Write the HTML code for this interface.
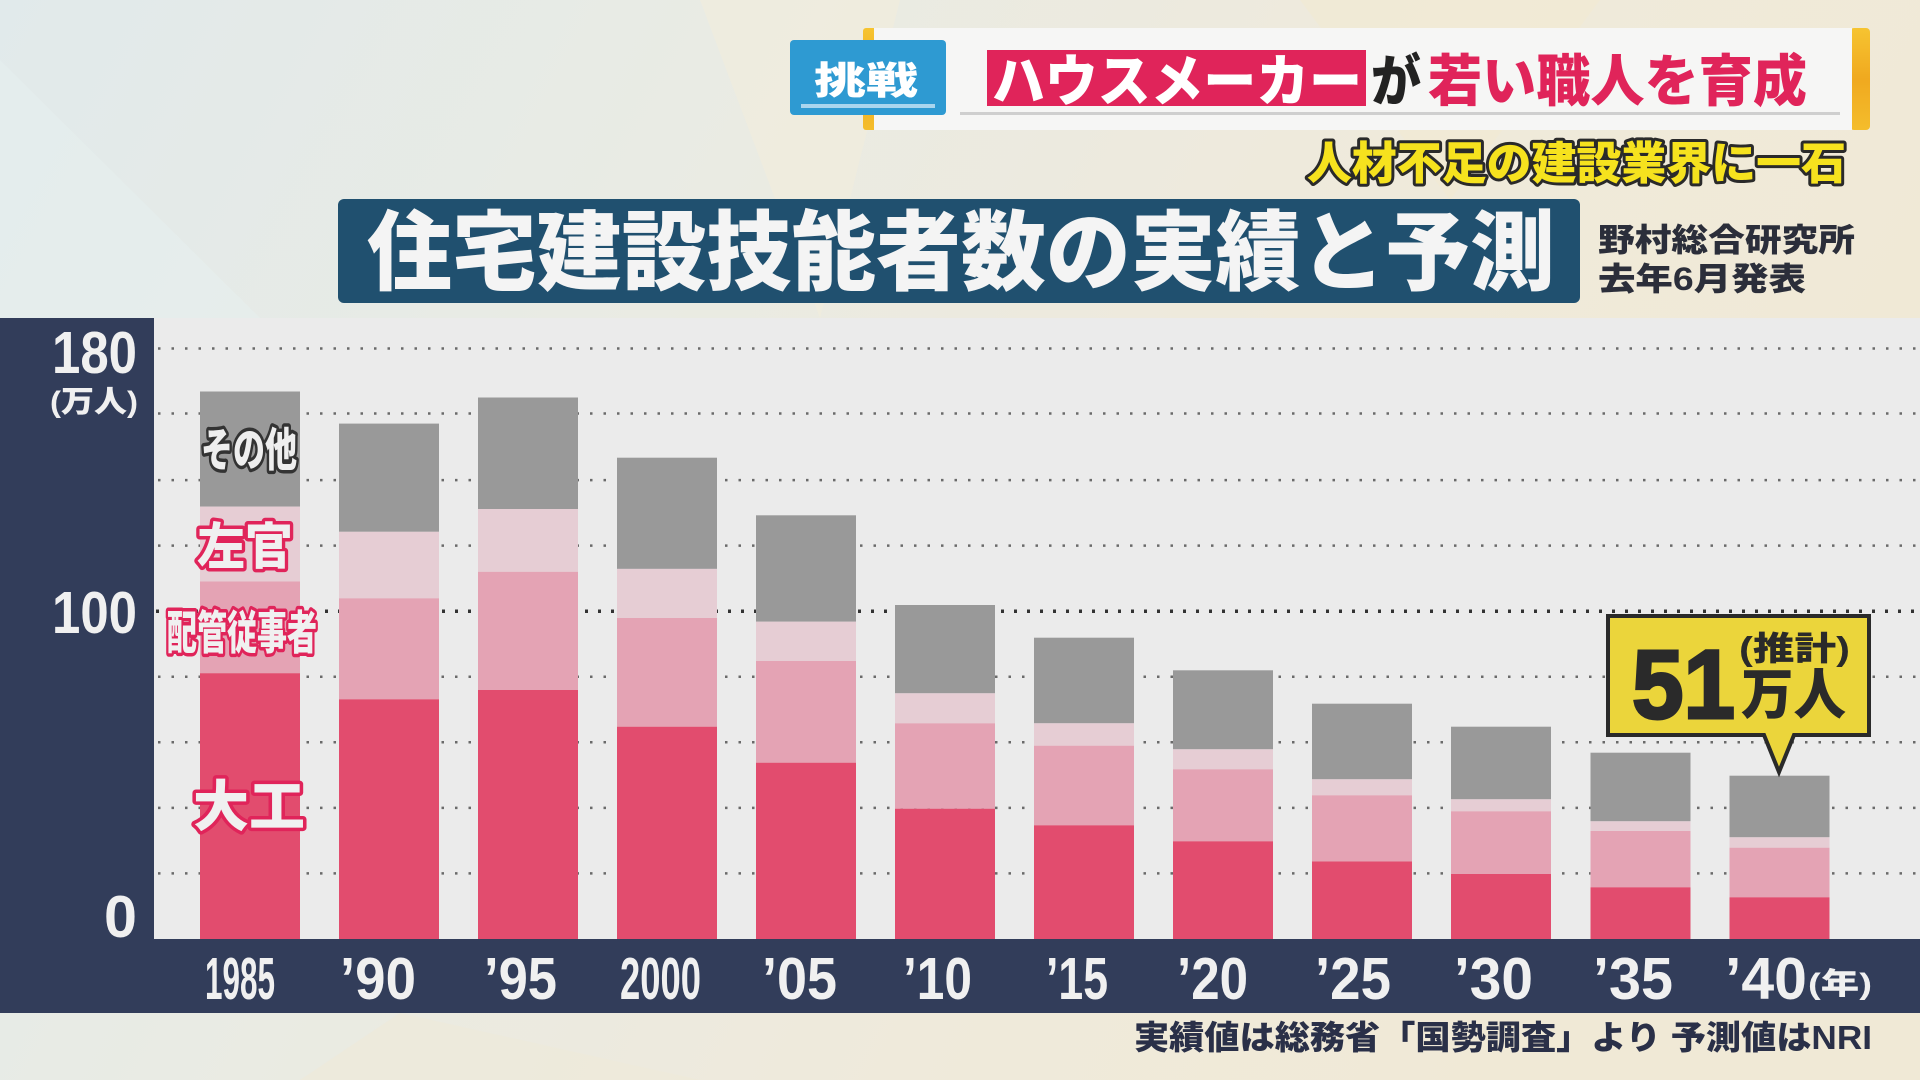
<!DOCTYPE html>
<html>
<head>
<meta charset="utf-8">
<style>
html,body{margin:0;padding:0;width:1920px;height:1080px;overflow:hidden;background:#e9e8e0;}
svg{display:block;}
.cjk{font-family:"Liberation Sans","Noto Sans CJK JP",sans-serif;font-weight:900;}
.num{font-family:"Liberation Sans","Noto Sans CJK JP",sans-serif;font-weight:700;}
</style>
</head>
<body>
<svg width="1920" height="1080" viewBox="0 0 1920 1080" xmlns="http://www.w3.org/2000/svg">
  <defs>
    <linearGradient id="bg" x1="0" y1="0" x2="1" y2="0.3">
      <stop offset="0" stop-color="#e1eaeb"/>
      <stop offset="0.35" stop-color="#e9ebe4"/>
      <stop offset="0.7" stop-color="#efeadb"/>
      <stop offset="1" stop-color="#f0e9d6"/>
    </linearGradient>
    <linearGradient id="gold" x1="0" y1="0" x2="0" y2="1">
      <stop offset="0" stop-color="#f6c431"/>
      <stop offset="0.5" stop-color="#f0a91f"/>
      <stop offset="1" stop-color="#f4bd2c"/>
    </linearGradient>
  </defs>

  <!-- background -->
  <rect x="0" y="0" width="1920" height="1080" fill="url(#bg)"/>
  <polygon points="700,0 900,0 820,318" fill="#f1ecdc" opacity="0.6"/>
  <polygon points="1300,0 1600,0 1450,200" fill="#f2ead2" opacity="0.6"/>
  <polygon points="0,60 260,318 0,318" fill="#e6eeee" opacity="0.6"/>
  <polygon points="400,1013 700,1080 300,1080" fill="#efe9d9" opacity="0.6"/>

  <!-- header banner -->
  <rect x="863" y="28" width="16" height="102" rx="3" fill="url(#gold)"/>
  <rect x="1850" y="28" width="20" height="102" rx="4" fill="url(#gold)"/>
  <rect x="874" y="28" width="978" height="102" fill="#f6f6f5"/>
  <rect x="960" y="112" width="880" height="3" fill="#cfcfcf"/>
  <rect x="790" y="40" width="156" height="75" rx="4" fill="#2e9ad2"/>
  <rect x="801" y="104" width="134" height="4" fill="#a9d5ee"/>
  <text class="cjk" x="814" y="94" font-size="38" fill="#ffffff" textLength="104" lengthAdjust="spacingAndGlyphs">挑戦</text>
  <rect x="987" y="50" width="379" height="56" fill="#e0245a"/>
  <text class="cjk" x="992" y="101" font-size="56" fill="#ffffff" textLength="370" lengthAdjust="spacingAndGlyphs">ハウスメーカー</text>
  <text class="cjk" x="1371" y="101" font-size="56" fill="#222222" textLength="50" lengthAdjust="spacingAndGlyphs">が</text>
  <text class="cjk" x="1428" y="101" font-size="56" fill="#e0245a" textLength="379" lengthAdjust="spacingAndGlyphs">若い職人を育成</text>

  <text class="cjk" x="1307" y="179" font-size="45" fill="#f6e21e" stroke="#2a2a2a" stroke-width="6" stroke-linejoin="round" paint-order="stroke" textLength="539" lengthAdjust="spacingAndGlyphs">人材不足の建設業界に一石</text>

  <!-- title -->
  <rect x="338" y="199" width="1242" height="104" rx="6" fill="#20506f"/>
  <text class="cjk" x="367" y="283" font-size="87" fill="#f4f4f4" textLength="1188" lengthAdjust="spacingAndGlyphs">住宅建設技能者数の実績と予測</text>
  <text class="cjk" x="1598" y="251" font-size="32" fill="#2b2e3a" textLength="257" lengthAdjust="spacingAndGlyphs">野村総合研究所</text>
  <text class="cjk" x="1598" y="290" font-size="32" fill="#2b2e3a" textLength="208" lengthAdjust="spacingAndGlyphs">去年6月発表</text>

  <!-- chart frame -->
  <rect x="154" y="318" width="1766" height="621" fill="#ebebeb"/>
  <rect x="0" y="318" width="154" height="621" fill="#323d5a"/>
  <rect x="0" y="939" width="1920" height="74" fill="#323d5a"/>

  <!-- gridlines -->
  <g stroke="#6a6a6a" stroke-width="2.5" stroke-dasharray="2.5 11">
    <line x1="158" y1="873.4" x2="1920" y2="873.4"/>
    <line x1="158" y1="807.9" x2="1920" y2="807.9"/>
    <line x1="158" y1="742.3" x2="1920" y2="742.3"/>
    <line x1="158" y1="676.8" x2="1920" y2="676.8"/>
    <line x1="158" y1="545.6" x2="1920" y2="545.6"/>
    <line x1="158" y1="480.1" x2="1920" y2="480.1"/>
    <line x1="158" y1="413.5" x2="1920" y2="413.5"/>
    <line x1="158" y1="348.5" x2="1920" y2="348.5"/>
  </g>
  <line x1="156" y1="611.2" x2="1920" y2="611.2" stroke="#333" stroke-width="3.5" stroke-dasharray="3 10"/>

  <!-- bars: gray / light / mid / red -->
  <g>
    <!-- 1985 -->
    <rect x="200" y="391.5" width="100" height="115.1" fill="#999999"/>
    <rect x="200" y="506.6" width="100" height="74.9" fill="#e6cdd4"/>
    <rect x="200" y="581.5" width="100" height="91.7" fill="#e4a3b4"/>
    <rect x="200" y="673.2" width="100" height="265.8" fill="#e24c6e"/>
    <!-- 90 -->
    <rect x="339" y="423.6" width="100" height="108.2" fill="#999999"/>
    <rect x="339" y="531.8" width="100" height="66.5" fill="#e6cdd4"/>
    <rect x="339" y="598.3" width="100" height="101" fill="#e4a3b4"/>
    <rect x="339" y="699.3" width="100" height="239.7" fill="#e24c6e"/>
    <!-- 95 -->
    <rect x="478" y="397.5" width="100" height="111.5" fill="#999999"/>
    <rect x="478" y="509" width="100" height="62.8" fill="#e6cdd4"/>
    <rect x="478" y="571.8" width="100" height="118.2" fill="#e4a3b4"/>
    <rect x="478" y="690" width="100" height="249" fill="#e24c6e"/>
    <!-- 2000 -->
    <rect x="617" y="457.7" width="100" height="111.2" fill="#999999"/>
    <rect x="617" y="568.9" width="100" height="49.1" fill="#e6cdd4"/>
    <rect x="617" y="618" width="100" height="108.7" fill="#e4a3b4"/>
    <rect x="617" y="726.7" width="100" height="212.3" fill="#e24c6e"/>
    <!-- 05 -->
    <rect x="756" y="515.3" width="100" height="106.4" fill="#999999"/>
    <rect x="756" y="621.7" width="100" height="39.3" fill="#e6cdd4"/>
    <rect x="756" y="661" width="100" height="101.7" fill="#e4a3b4"/>
    <rect x="756" y="762.7" width="100" height="176.3" fill="#e24c6e"/>
    <!-- 10 -->
    <rect x="895" y="605" width="100" height="88.3" fill="#999999"/>
    <rect x="895" y="693.3" width="100" height="30" fill="#e6cdd4"/>
    <rect x="895" y="723.3" width="100" height="85.4" fill="#e4a3b4"/>
    <rect x="895" y="808.7" width="100" height="130.3" fill="#e24c6e"/>
    <!-- 15 -->
    <rect x="1034" y="637.7" width="100" height="85.6" fill="#999999"/>
    <rect x="1034" y="723.3" width="100" height="22.4" fill="#e6cdd4"/>
    <rect x="1034" y="745.7" width="100" height="79.6" fill="#e4a3b4"/>
    <rect x="1034" y="825.3" width="100" height="113.7" fill="#e24c6e"/>
    <!-- 20 -->
    <rect x="1173" y="670.3" width="100" height="79" fill="#999999"/>
    <rect x="1173" y="749.3" width="100" height="20" fill="#e6cdd4"/>
    <rect x="1173" y="769.3" width="100" height="72" fill="#e4a3b4"/>
    <rect x="1173" y="841.3" width="100" height="97.7" fill="#e24c6e"/>
    <!-- 25 -->
    <rect x="1312" y="703.7" width="100" height="75.6" fill="#999999"/>
    <rect x="1312" y="779.3" width="100" height="16" fill="#e6cdd4"/>
    <rect x="1312" y="795.3" width="100" height="66.2" fill="#e4a3b4"/>
    <rect x="1312" y="861.5" width="100" height="77.5" fill="#e24c6e"/>
    <!-- 30 -->
    <rect x="1451" y="726.7" width="100" height="72.6" fill="#999999"/>
    <rect x="1451" y="799.3" width="100" height="12" fill="#e6cdd4"/>
    <rect x="1451" y="811.3" width="100" height="62.7" fill="#e4a3b4"/>
    <rect x="1451" y="874" width="100" height="65" fill="#e24c6e"/>
    <!-- 35 -->
    <rect x="1590.5" y="752.7" width="100" height="68.6" fill="#999999"/>
    <rect x="1590.5" y="821.3" width="100" height="9.7" fill="#e6cdd4"/>
    <rect x="1590.5" y="831" width="100" height="56.3" fill="#e4a3b4"/>
    <rect x="1590.5" y="887.3" width="100" height="51.7" fill="#e24c6e"/>
    <!-- 40 -->
    <rect x="1729.5" y="775.7" width="100" height="61.6" fill="#999999"/>
    <rect x="1729.5" y="837.3" width="100" height="10.4" fill="#e6cdd4"/>
    <rect x="1729.5" y="847.7" width="100" height="49.6" fill="#e4a3b4"/>
    <rect x="1729.5" y="897.3" width="100" height="41.7" fill="#e24c6e"/>
  </g>

  <!-- series labels -->
  <text class="cjk" x="201" y="466" font-size="46" fill="#eeeeee" stroke="#333333" stroke-width="7" stroke-linejoin="round" paint-order="stroke" textLength="96" lengthAdjust="spacingAndGlyphs">その他</text>
  <text class="cjk" x="197" y="564" font-size="50" fill="#f0f0f0" stroke="#e0245a" stroke-width="7" stroke-linejoin="round" paint-order="stroke" textLength="96" lengthAdjust="spacingAndGlyphs">左官</text>
  <text class="cjk" x="167" y="649" font-size="46" fill="#f0f0f0" stroke="#e0245a" stroke-width="7" stroke-linejoin="round" paint-order="stroke" textLength="150" lengthAdjust="spacingAndGlyphs">配管従事者</text>
  <text class="cjk" x="193" y="826" font-size="55" fill="#f0f0f0" stroke="#e0245a" stroke-width="7" stroke-linejoin="round" paint-order="stroke" textLength="112" lengthAdjust="spacingAndGlyphs">大工</text>

  <!-- y axis labels -->
  <text class="num" x="52" y="373" font-size="59" fill="#f0f0f0" textLength="85" lengthAdjust="spacingAndGlyphs">180</text>
  <text class="cjk" x="50" y="412" font-size="30" fill="#f0f0f0" textLength="88" lengthAdjust="spacingAndGlyphs">(万人)</text>
  <text class="num" x="52" y="633" font-size="59" fill="#f0f0f0" textLength="85" lengthAdjust="spacingAndGlyphs">100</text>
  <text class="num" x="104" y="937" font-size="59" fill="#f0f0f0" textLength="33" lengthAdjust="spacingAndGlyphs">0</text>

  <!-- x axis labels -->
  <g class="num" font-size="59" fill="#f0f0f0">
    <text x="205" y="999" textLength="70" lengthAdjust="spacingAndGlyphs">1985</text>
    <text x="340" y="999" textLength="76" lengthAdjust="spacingAndGlyphs">’90</text>
    <text x="484" y="999" textLength="73" lengthAdjust="spacingAndGlyphs">’95</text>
    <text x="620" y="999" textLength="81" lengthAdjust="spacingAndGlyphs">2000</text>
    <text x="762" y="999" textLength="75" lengthAdjust="spacingAndGlyphs">’05</text>
    <text x="903" y="999" textLength="69" lengthAdjust="spacingAndGlyphs">’10</text>
    <text x="1046" y="999" textLength="62" lengthAdjust="spacingAndGlyphs">’15</text>
    <text x="1177" y="999" textLength="71" lengthAdjust="spacingAndGlyphs">’20</text>
    <text x="1315" y="999" textLength="76" lengthAdjust="spacingAndGlyphs">’25</text>
    <text x="1454" y="999" textLength="79" lengthAdjust="spacingAndGlyphs">’30</text>
    <text x="1593" y="999" textLength="80" lengthAdjust="spacingAndGlyphs">’35</text>
    <text x="1725" y="999" textLength="82" lengthAdjust="spacingAndGlyphs">’40</text>
  </g>
  <text class="cjk" x="1808" y="994" font-size="30" fill="#f0f0f0" textLength="64" lengthAdjust="spacingAndGlyphs">(年)</text>

  <!-- footer -->
  <text class="cjk" x="1134" y="1049" font-size="33" fill="#2a3048" textLength="738" lengthAdjust="spacingAndGlyphs">実績値は総務省「国勢調査」より 予測値はNRI</text>

  <!-- callout -->
  <path d="M1608,616 L1869,616 L1869,735 L1794,735 L1779,772 L1764,735 L1608,735 Z" fill="#ebd53b" stroke="#2a2a2a" stroke-width="4" stroke-linejoin="miter"/>
  <text class="num" x="1632" y="718" font-size="97" fill="#2a2a2a" stroke="#2a2a2a" stroke-width="3" textLength="103" lengthAdjust="spacingAndGlyphs">51</text>
  <text class="cjk" x="1739" y="660" font-size="33" fill="#2a2a2a" textLength="111" lengthAdjust="spacingAndGlyphs">(推計)</text>
  <text class="cjk" x="1741" y="714" font-size="55" fill="#2a2a2a" textLength="105" lengthAdjust="spacingAndGlyphs">万人</text>
</svg>
</body>
</html>
